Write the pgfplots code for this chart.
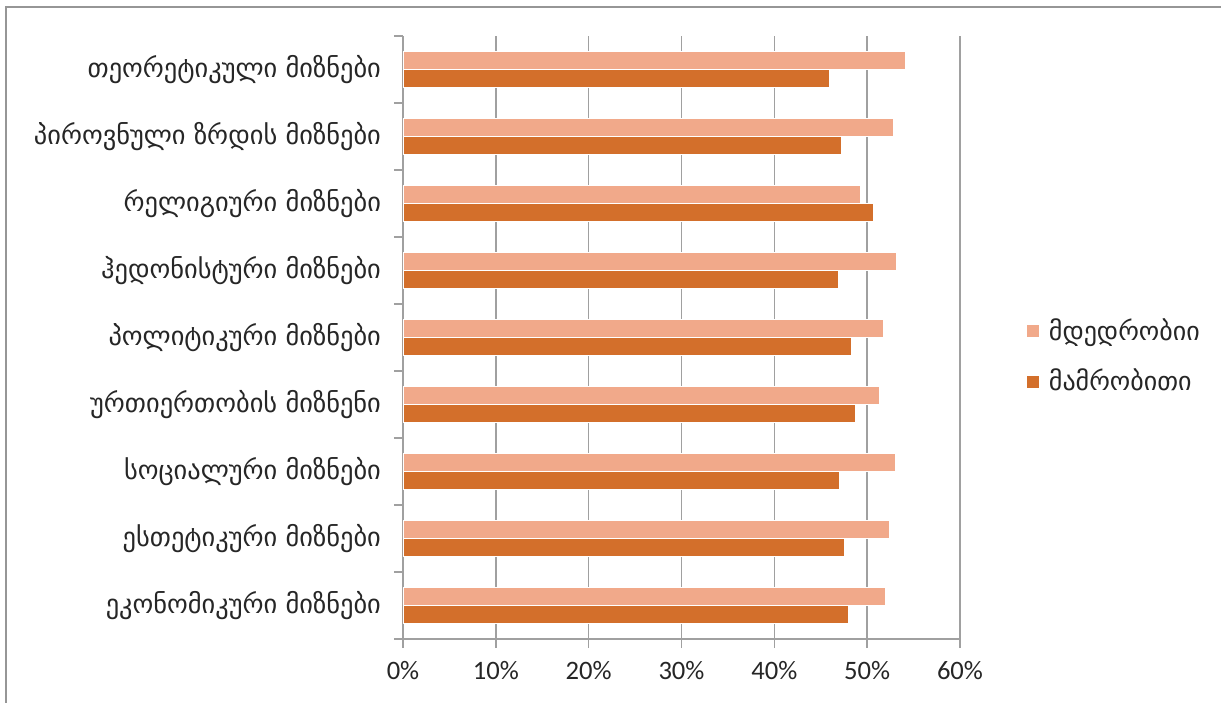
\documentclass[border=0pt]{standalone}
\usepackage{fontspec}
\setmainfont{Carlito}
\newfontfamily\geo{DejaVu Sans}
\usepackage{pgfplots}
\pgfplotsset{compat=1.18}
\definecolor{lightbar}{RGB}{241,169,138}
\definecolor{darkbar}{RGB}{211,111,43}
\definecolor{gridc}{RGB}{160,160,160}
\definecolor{framec}{RGB}{150,150,150}
\begin{document}
\begin{tikzpicture}[x=1pt,y=1pt]
\useasboundingbox (0,0) rectangle (610.5,351);
\draw[framec, line width=1pt] (3,-2) -- (3,347.5) -- (613,347.5);
\begin{axis}[
  at={(201.5pt,31.5pt)}, anchor=south west,
  scale only axis, width=278.5pt, height=301.5pt,
  xmin=0, xmax=60, ymin=-0.5, ymax=8.5,
  axis lines*=left,
  axis line style={gridc, line width=0.75pt},
  xmajorgrids, grid style={gridc, line width=0.75pt},
  tick style={gridc, line width=0.75pt},
  tick align=outside,
  xtick={0,10,...,60},
  xticklabel={\pgfmathprintnumber{\tick}\%},
  /pgf/number format/assume math mode=true,
  xticklabel style={font=\fontsize{13.3}{15}\selectfont, text=black!85, yshift=-3pt},
  major x tick style={gridc},
  major tick length=4.5pt,
  ytick={0,...,8},
  major y tick style={draw=none},
  minor ytick={-0.5,0.5,...,8.5},
  minor tick length=4.5pt,
  yticklabels={
    ეკონომიკური მიზნები,
    ესთეტიკური მიზნები,
    სოციალური მიზნები,
    ურთიერთობის მიზნენი,
    პოლიტიკური მიზნები,
    ჰედონისტური მიზნები,
    რელიგიური მიზნები,
    პიროვნული ზრდის მიზნები,
    თეორეტიკული მიზნები},
  yticklabel style={font=\geo\fontsize{13.2}{15}\selectfont, text=black!85, xshift=-3pt},
  legend style={at={(1.108,0.469)}, anchor=west, draw=none,
    font=\geo\fontsize{13}{15}\selectfont, text=black!85, row sep=9pt},
  legend cell align=left,
  legend image code/.code={\fill[#1,draw=none] (0pt,-3pt) rectangle (6pt,3pt); \path (9pt,0pt);},
]
\addplot[xbar, bar width=0.26, bar shift=0.135, fill=lightbar, draw=white, line width=0.4pt]
  coordinates {(52.0,0) (52.4,1) (53.0,2) (51.3,3) (51.7,4) (53.1,5) (49.3,6) (52.8,7) (54.1,8)};
\addlegendentry{მდედრობიი}
\addplot[xbar, bar width=0.26, bar shift=-0.135, fill=darkbar, draw=white, line width=0.4pt]
  coordinates {(48.0,0) (47.6,1) (47.0,2) (48.7,3) (48.3,4) (46.9,5) (50.7,6) (47.2,7) (45.9,8)};
\addlegendentry{მამრობითი}
\end{axis}
\end{tikzpicture}
\end{document}
